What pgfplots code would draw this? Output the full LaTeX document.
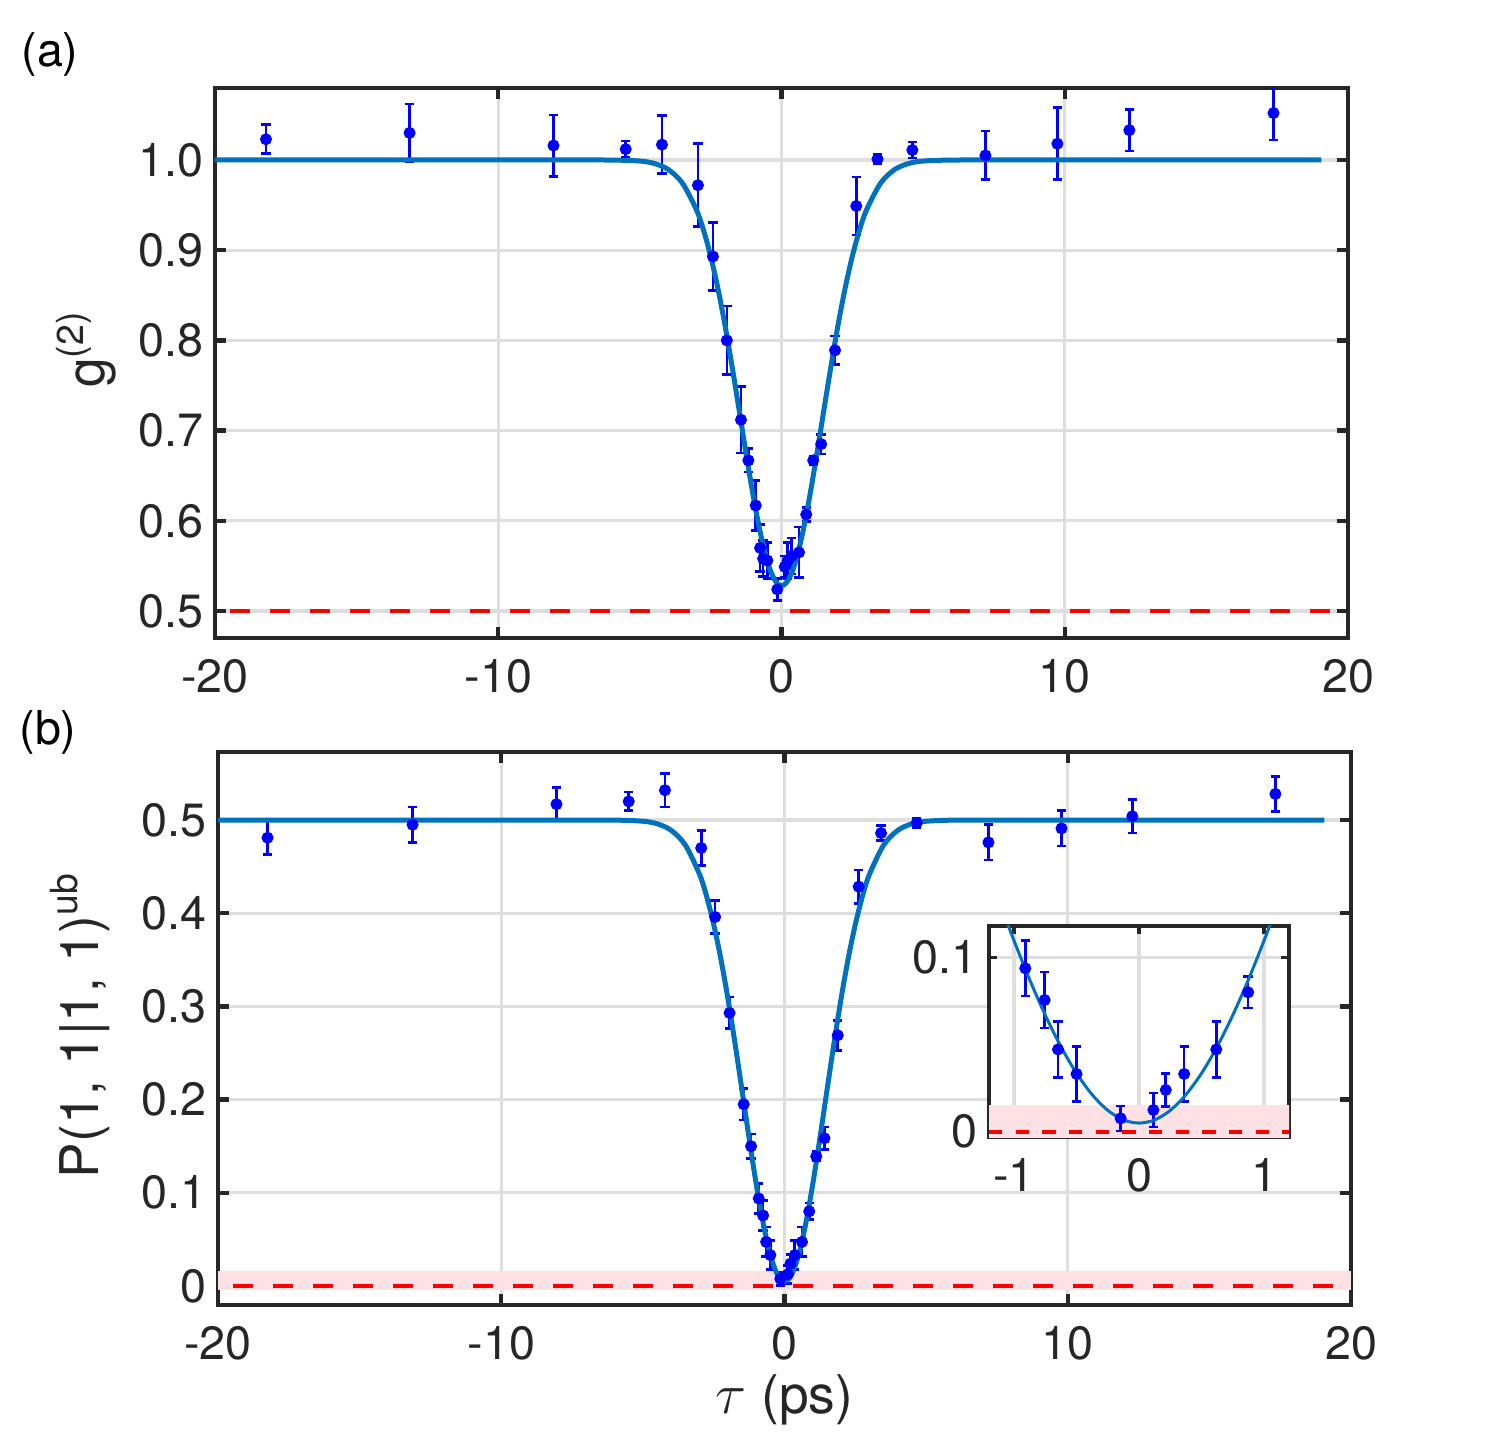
\documentclass[border=0pt]{standalone}
\usepackage{fontspec}
\setmainfont{TeX Gyre Heros}
\usepackage{pgfplots}
\pgfplotsset{compat=1.18}
\usepackage{pgfplotstable}

\definecolor{fitc}{RGB}{0,114,189}
\definecolor{datac}{RGB}{0,0,255}
\definecolor{axc}{RGB}{38,38,38}
\definecolor{gridc}{RGB}{222,222,222}
\definecolor{shadec}{RGB}{253,225,229}
\newcommand\lbl{\fontsize{14}{17}\selectfont}
\newcommand\albl{\fontsize{16}{19}\selectfont}

\pgfplotstableread{
x y ey
-18.2 1.023 0.016
-13.13 1.030 0.032
-8.05 1.016 0.034
-5.5 1.012 0.009
-4.22 1.017 0.032
-2.95 0.972 0.046
-2.42 0.893 0.038
-1.93 0.800 0.038
-1.43 0.712 0.037
-1.17 0.667 0.013
-0.91 0.617 0.028
-0.755 0.570 0.026
-0.648 0.558 0.020
-0.50 0.556 0.020
-0.15 0.524 0.012
0.115 0.549 0.012
0.214 0.556 0.020
0.361 0.561 0.020
0.618 0.565 0.028
0.873 0.607 0.008
1.12 0.667 0.005
1.40 0.685 0.011
1.89 0.789 0.016
2.64 0.949 0.032
3.39 1.001 0.005
4.62 1.011 0.009
7.2 1.005 0.027
9.74 1.018 0.040
12.28 1.033 0.023
17.37 1.052 0.030
}\dataA

\pgfplotstableread{
x y ey
-18.25 0.481 0.018
-13.13 0.495 0.019
-8.05 0.517 0.018
-5.5 0.520 0.010
-4.22 0.532 0.018
-2.94 0.470 0.019
-2.45 0.396 0.018
-1.94 0.293 0.017
-1.44 0.195 0.017
-1.18 0.150 0.013
-0.91 0.0939 0.016
-0.755 0.0757 0.016
-0.648 0.0473 0.016
-0.50 0.0332 0.0157
-0.147 0.0077 0.0072
0.115 0.0125 0.0097
0.214 0.024 0.0095
0.361 0.0332 0.0157
0.618 0.0473 0.016
0.873 0.0801 0.009
1.12 0.139 0.005
1.41 0.1585 0.012
1.88 0.269 0.016
2.62 0.4285 0.018
3.41 0.486 0.008
4.67 0.497 0.005
7.2 0.476 0.019
9.78 0.491 0.019
12.28 0.504 0.018
17.33 0.528 0.019
}\dataB

\pgfplotstableread{
x y
-20 1.0
-8 1.0
-6 0.9999
-5 0.9988
-4.5 0.9962
-4 0.9895
-3.5 0.9744
-3 0.9445
-2.75 0.9219
-2.5 0.8932
-2.25 0.8584
-2 0.8177
-1.75 0.7721
-1.5 0.7236
-1.25 0.6745
-1.125 0.6507
-1 0.6279
-0.875 0.6066
-0.75 0.5871
-0.625 0.5699
-0.5 0.5552
-0.375 0.5435
-0.25 0.5350
-0.125 0.5298
0 0.5280
0.125 0.5298
0.25 0.5350
0.375 0.5435
0.5 0.5552
0.625 0.5699
0.75 0.5871
0.875 0.6066
1 0.6279
1.125 0.6507
1.25 0.6745
1.5 0.7236
1.75 0.7721
2 0.8177
2.25 0.8584
2.5 0.8932
2.75 0.9219
3 0.9445
3.5 0.9744
4 0.9895
4.5 0.9962
5 0.9988
6 0.9999
8 1.0
19.06 1.0
}\fitA

\pgfplotstableread{
x y
-20 0.5
-8 0.5
-6 0.4999
-5 0.4987
-4.5 0.4960
-4 0.4890
-3.5 0.4731
-3 0.4418
-2.75 0.4181
-2.5 0.3880
-2.25 0.3515
-2 0.3088
-1.75 0.2610
-1.5 0.2101
-1.25 0.1586
-1.125 0.1336
-1 0.1098
-0.875 0.0874
-0.75 0.0670
-0.625 0.0489
-0.5 0.0336
-0.375 0.0213
-0.25 0.0123
-0.125 0.0068
0 0.0050
0.125 0.0068
0.25 0.0123
0.375 0.0213
0.5 0.0336
0.625 0.0489
0.75 0.0670
0.875 0.0874
1 0.1098
1.125 0.1336
1.25 0.1586
1.5 0.2101
1.75 0.2610
2 0.3088
2.25 0.3515
2.5 0.3880
2.75 0.4181
3 0.4418
3.5 0.4731
4 0.4890
4.5 0.4960
5 0.4987
6 0.4999
8 0.5
19.06 0.5
}\fitB

\pgfplotsset{
  mystyle/.style={
    scale only axis,
    axis line style={axc, line width=1.3pt},
    tick style={axc, line width=1.3pt},
    major tick length=3.3pt,
    tick align=inside,
    grid=major,
    major grid style={gridc, line width=1pt},
    tick label style={font=\lbl, text=axc},
    label style={font=\albl, text=axc},
    /pgf/number format/assume math mode=true,
    xticklabel style={yshift=-3pt},
  },
  datastyle/.style={
    only marks, mark=*, mark size=1.6pt, color=datac,
    error bars/.cd, y dir=both, y explicit,
    error mark=-,
    error bar style={line width=0.8pt, datac},
    error mark options={rotate=90, datac, line width=0.8pt, mark size=1.4pt},
  },
}

\begin{document}
\begin{tikzpicture}
\path[use as bounding box] (0,0) rectangle (450pt,431.4pt);

\node[font=\lbl, text=black] at (15pt,415.2pt) {(a)};
\node[font=\lbl, text=black] at (14.4pt,211.8pt) {(b)};

% panel (a)
\begin{axis}[mystyle,
  at={(64.5pt,240pt)}, anchor=south west,
  width=339.9pt, height=165pt,
  xmin=-20, xmax=20, ymin=0.4701, ymax=1.0798,
  xtick={-20,-10,0,10,20},
  ytick={0.5,0.6,0.7,0.8,0.9,1.0},
  yticklabel style={/pgf/number format/.cd, fixed, fixed zerofill, precision=1},
  ylabel={g\textsuperscript{(2)}},
  ylabel style={at={(axis description cs:-0.114,0.525)}, anchor=center},
]
\addplot[datastyle] table[x=x, y=y, y error=ey] {\dataA};
\addplot[fitc, line width=1.5pt, smooth] table[x=x, y=y] {\fitA};
\addplot[red, line width=1.2pt, dash pattern=on 6pt off 6pt, dash phase=-4.5pt] coordinates {(-20,0.5) (20,0.5)};
\end{axis}

% panel (b)
\begin{axis}[mystyle,
  at={(65.4pt,39.9pt)}, anchor=south west,
  width=339.9pt, height=165.9pt,
  xmin=-20, xmax=20, ymin=-0.0204, ymax=0.573,
  xtick={-20,-10,0,10,20},
  ytick={0,0.1,0.2,0.3,0.4,0.5},
  ylabel={P(1, 1|1, 1)\textsuperscript{ub}},
  ylabel style={at={(axis description cs:-0.122,0.506)}, anchor=center},
  xlabel={$\tau$ (ps)},
  xlabel style={at={(axis description cs:0.5,-0.172)}, anchor=center},
]
\addplot[draw=none, fill=shadec] coordinates {(-20,-0.004) (-20,0.016) (20,0.016) (20,-0.004)} -- cycle;
\addplot[datastyle] table[x=x, y=y, y error=ey] {\dataB};
\addplot[fitc, line width=1.5pt, smooth] table[x=x, y=y] {\fitB};
\addplot[red, line width=1.2pt, dash pattern=on 6pt off 6pt, dash phase=-4.5pt] coordinates {(-20,0) (20,0)};
\end{axis}

% inset
\begin{axis}[mystyle,
  at={(296.7pt,90.3pt)}, anchor=south west,
  width=90pt, height=63.3pt,
  axis background/.style={fill=white},
  axis line style={axc, line width=1pt},
  tick style={axc, line width=1pt},
  major tick length=2.5pt,
  xmin=-1.2, xmax=1.2, ymin=-0.003, ymax=0.1182,
  xtick={-1,0,1},
  ytick={0,0.1},
]
\addplot[draw=none, fill=shadec] coordinates {(-1.3,-0.01) (-1.3,0.0155) (1.3,0.0155) (1.3,-0.01)} -- cycle;
\addplot[datastyle] table[x=x, y=y, y error=ey] {\dataB};
\addplot[fitc, line width=0.9pt, smooth] table[x=x, y=y] {\fitB};
\addplot[red, line width=1.2pt, dash pattern=on 4pt off 4pt] coordinates {(-1.2,0) (1.2,0)};
\end{axis}
\end{tikzpicture}
\end{document}
